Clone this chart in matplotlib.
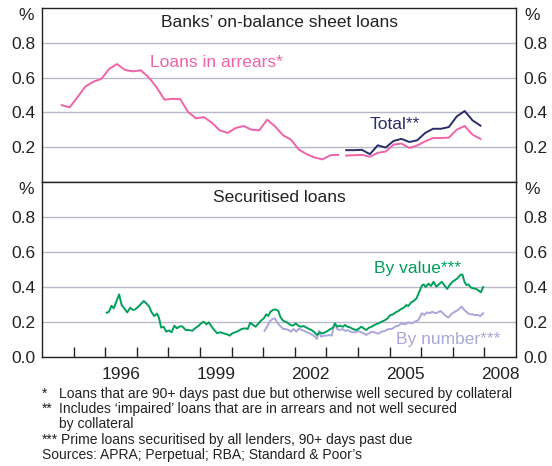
import matplotlib
matplotlib.use("Agg")
import matplotlib.pyplot as plt
import numpy as np

plt.rcParams['font.family'] = ['Liberation Sans', 'DejaVu Sans']

# Banks' on-balance sheet loans (quarterly)
arrears_old_x = np.arange(1994.625, 2003.4, 0.25)
arrears_old = [0.442, 0.429, 0.488, 0.549, 0.577, 0.592, 0.650, 0.678, 0.644, 0.636,
               0.642, 0.602, 0.545, 0.473, 0.478, 0.476, 0.402, 0.366, 0.373, 0.341,
               0.297, 0.282, 0.310, 0.322, 0.301, 0.297, 0.358, 0.320, 0.269, 0.244,
               0.187, 0.160, 0.141, 0.130, 0.154, 0.156]
arrears_new_x = np.arange(2003.625, 2007.9, 0.25)
arrears_new = [0.152, 0.154, 0.156, 0.145, 0.168, 0.175, 0.215, 0.221, 0.196, 0.210,
               0.234, 0.253, 0.253, 0.255, 0.301, 0.322, 0.272, 0.248]
total = [0.183, 0.183, 0.185, 0.160, 0.211, 0.198, 0.236, 0.248, 0.230, 0.240,
         0.282, 0.306, 0.306, 0.316, 0.377, 0.408, 0.354, 0.324]

# Securitised loans (monthly)
value_x = [1996.05, 1996.12, 1996.20, 1996.27, 1996.35, 1996.44, 1996.52, 1996.60, 1996.70, 1996.79,
           1996.87, 1996.95, 1997.05, 1997.13, 1997.22, 1997.30, 1997.39, 1997.47, 1997.55, 1997.64,
           1997.70, 1997.77, 1997.85, 1997.93, 1998.02, 1998.10, 1998.19, 1998.27, 1998.36, 1998.44,
           1998.55, 1998.65, 1998.76, 1998.84, 1998.95, 1999.03, 1999.12, 1999.20, 1999.28, 1999.37,
           1999.45, 1999.54, 1999.64, 1999.75, 1999.85, 1999.94, 2000.02, 2000.11, 2000.21, 2000.32,
           2000.42, 2000.51, 2000.59, 2000.68, 2000.76, 2000.85, 2000.93, 2001.02, 2001.10, 2001.16,
           2001.23, 2001.31, 2001.39, 2001.48, 2001.54, 2001.61, 2001.69, 2001.77, 2001.86, 2001.94,
           2002.03, 2002.11, 2002.20, 2002.28, 2002.37, 2002.45, 2002.53, 2002.62, 2002.70, 2002.79,
           2002.87, 2002.96, 2003.04, 2003.13, 2003.21, 2003.27, 2003.34, 2003.42, 2003.52, 2003.59,
           2003.67, 2003.76, 2003.84, 2003.93, 2004.01, 2004.10, 2004.18, 2004.26, 2004.35, 2004.43,
           2004.52, 2004.64, 2004.75, 2004.85, 2004.94, 2005.02, 2005.11, 2005.19, 2005.28, 2005.36,
           2005.45, 2005.53, 2005.59, 2005.68, 2005.76, 2005.85, 2005.93, 2006.02, 2006.08, 2006.14,
           2006.23, 2006.31, 2006.39, 2006.48, 2006.56, 2006.65, 2006.73, 2006.82, 2006.90, 2006.99,
           2007.07, 2007.15, 2007.24, 2007.30, 2007.37, 2007.43, 2007.49, 2007.58, 2007.66, 2007.74,
           2007.83, 2007.89, 2007.96]
by_value = [0.253, 0.259, 0.293, 0.278, 0.316, 0.358, 0.297, 0.278, 0.255, 0.282,
            0.269, 0.272, 0.288, 0.303, 0.320, 0.307, 0.288, 0.255, 0.234, 0.248,
            0.225, 0.168, 0.173, 0.145, 0.152, 0.141, 0.179, 0.164, 0.175, 0.175,
            0.154, 0.154, 0.150, 0.164, 0.177, 0.192, 0.202, 0.187, 0.198, 0.173,
            0.154, 0.137, 0.141, 0.135, 0.130, 0.122, 0.135, 0.141, 0.149, 0.160,
            0.164, 0.160, 0.196, 0.183, 0.173, 0.192, 0.208, 0.221, 0.244, 0.234,
            0.259, 0.269, 0.272, 0.263, 0.230, 0.211, 0.202, 0.196, 0.183, 0.179,
            0.192, 0.179, 0.173, 0.177, 0.168, 0.160, 0.154, 0.141, 0.126, 0.141,
            0.135, 0.141, 0.149, 0.160, 0.168, 0.192, 0.173, 0.179, 0.173, 0.183,
            0.173, 0.168, 0.160, 0.154, 0.160, 0.173, 0.164, 0.154, 0.168, 0.173,
            0.183, 0.192, 0.202, 0.210, 0.221, 0.240, 0.244, 0.255, 0.263, 0.274,
            0.282, 0.297, 0.291, 0.312, 0.320, 0.335, 0.370, 0.408, 0.415, 0.400,
            0.419, 0.406, 0.430, 0.402, 0.415, 0.430, 0.411, 0.389, 0.411, 0.430,
            0.440, 0.450, 0.469, 0.472, 0.430, 0.411, 0.415, 0.396, 0.392, 0.389,
            0.377, 0.370, 0.400]
number_x = [2001.04, 2001.12, 2001.20, 2001.29, 2001.37, 2001.46, 2001.54, 2001.63, 2001.71, 2001.80,
            2001.88, 2001.96, 2002.05, 2002.13, 2002.22, 2002.30, 2002.39, 2002.47, 2002.56, 2002.64,
            2002.70, 2002.77, 2002.83, 2002.91, 2003.00, 2003.08, 2003.17, 2003.23, 2003.27, 2003.34,
            2003.42, 2003.51, 2003.59, 2003.67, 2003.76, 2003.84, 2003.93, 2004.01, 2004.10, 2004.18,
            2004.26, 2004.35, 2004.43, 2004.52, 2004.64, 2004.75, 2004.85, 2004.96, 2005.07, 2005.17,
            2005.28, 2005.38, 2005.49, 2005.59, 2005.70, 2005.80, 2005.91, 2006.02, 2006.10, 2006.18,
            2006.27, 2006.35, 2006.44, 2006.52, 2006.61, 2006.69, 2006.77, 2006.86, 2006.94, 2007.03,
            2007.11, 2007.20, 2007.28, 2007.36, 2007.45, 2007.53, 2007.62, 2007.70, 2007.79, 2007.87,
            2007.96]
by_number = [0.149, 0.173, 0.202, 0.217, 0.221, 0.192, 0.177, 0.160, 0.160, 0.154,
             0.145, 0.160, 0.145, 0.164, 0.154, 0.149, 0.141, 0.135, 0.126, 0.116,
             0.103, 0.149, 0.116, 0.122, 0.122, 0.126, 0.122, 0.173, 0.192, 0.160,
             0.154, 0.160, 0.149, 0.154, 0.145, 0.141, 0.141, 0.149, 0.141, 0.135,
             0.126, 0.135, 0.145, 0.141, 0.133, 0.145, 0.149, 0.160, 0.160, 0.173,
             0.179, 0.192, 0.187, 0.198, 0.192, 0.202, 0.211, 0.250, 0.240, 0.255,
             0.250, 0.259, 0.250, 0.255, 0.263, 0.250, 0.236, 0.225, 0.244, 0.255,
             0.263, 0.274, 0.288, 0.269, 0.255, 0.244, 0.244, 0.240, 0.240, 0.234,
             0.250]

year_ticks = list(range(1995, 2009))
year_labels = ['1996', '1999', '2002', '2005', '2008']

pink = '#ef63a8'
navy = '#2b2d6b'
green = '#00a05a'
lavender = '#aaa7d9'
grid_col = '#b8b8c8'
spine_col = '#222222'
fs = 12.5

fig = plt.figure(figsize=(5.52, 4.66), dpi=100)
ax1 = fig.add_axes([0.0761, 0.6094, 0.8587, 0.3734])
ax2 = fig.add_axes([0.0761, 0.2339, 0.8587, 0.3755])

for ax in (ax1, ax2):
    ax.set_xlim(1994, 2009)
    ax.set_ylim(0, 1.0)
    ax.grid(axis='y', color=grid_col, lw=1.0)
    ax.set_axisbelow(True)
    for s in ax.spines.values():
        s.set_color(spine_col)
        s.set_linewidth(1.0)
    ax.tick_params(axis='y', length=0, labelsize=fs, labelleft=True, labelright=True, pad=5,
                   colors='#222222')
    ax.text(-0.017, 0.958, '%', transform=ax.transAxes, ha='right', va='center', fontsize=fs,
            color='#222222')
    ax.text(1.017, 0.958, '%', transform=ax.transAxes, ha='left', va='center', fontsize=fs,
            color='#222222')

# top panel
ax1.set_yticks([0.2, 0.4, 0.6, 0.8])
ax1.set_yticklabels(['0.2', '0.4', '0.6', '0.8'])
ax1.set_xticks([])
ax1.plot(arrears_old_x, arrears_old, color=pink, lw=1.4)
ax1.plot(arrears_new_x, arrears_new, color=pink, lw=1.4)
ax1.plot(arrears_new_x, total, color=navy, lw=1.4)
ax1.text(0.5, 0.915, 'Banks\u2019 on-balance sheet loans', transform=ax1.transAxes,
         ha='center', va='center', fontsize=fs, color='#222222')
ax1.text(1997.42, 0.686, 'Loans in arrears*', color=pink, fontsize=fs, va='center')
ax1.text(2004.36, 0.331, 'Total**', color=navy, fontsize=fs, va='center')

# bottom panel
ax2.set_yticks([0.0, 0.2, 0.4, 0.6, 0.8])
ax2.set_yticklabels(['0.0', '0.2', '0.4', '0.6', '0.8'])
ax2.plot(number_x, by_number, color=lavender, lw=1.4)
ax2.plot(value_x, by_value, color=green, lw=1.4)
ax2.set_xticks(year_ticks)
ax2.set_xticklabels([])
ax2.set_xticks([int(y) + 0.5 for y in year_labels], minor=True)
ax2.set_xticklabels(year_labels, minor=True)
ax2.tick_params(axis='x', which='major', direction='in', length=7, color=spine_col, width=1.0)
ax2.tick_params(axis='x', which='minor', length=0, labelsize=fs, pad=7, colors='#222222')
ax2.text(0.5, 0.91, 'Securitised loans', transform=ax2.transAxes,
         ha='center', va='center', fontsize=fs, color='#222222')
ax2.text(2004.5, 0.507, 'By value***', color=green, fontsize=fs, va='center')
ax2.text(2005.2, 0.101, 'By number***', color=lavender, fontsize=fs, va='center')

# footnotes
notes = [('*', 'Loans that are 90+ days past due but otherwise well secured by collateral', 394, 59),
         ('**', 'Includes \u2018impaired\u2019 loans that are in arrears and not well secured', 409, 59),
         ('', 'by collateral', 424, 59),
         ('***', 'Prime loans securitised by all lenders, 90+ days past due', 440, 61)]
for mark, txt, y, tx in notes:
    yf = 1 - y / 466
    if mark:
        fig.text(42 / 552, yf, mark, fontsize=10, va='center', ha='left', color='#222222')
    fig.text(tx / 552, yf, txt, fontsize=10, va='center', ha='left', color='#222222')
fig.text(42 / 552, 1 - 455 / 466, 'Sources: APRA; Perpetual; RBA; Standard & Poor\u2019s',
         fontsize=10, va='center', ha='left', color='#222222')

fig.savefig('out.png', dpi=100)
